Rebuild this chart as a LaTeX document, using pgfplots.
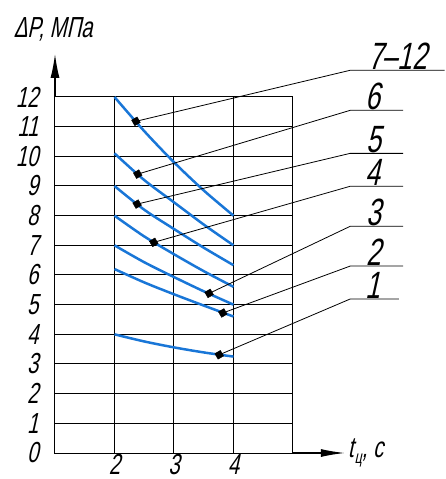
\documentclass[border=0pt]{standalone}
\usepackage{fontspec}
\setmainfont{Liberation Sans}[FakeStretch=0.7,FakeSlant=0.22]
\usepackage{pgfplots}
\pgfplotsset{compat=1.18}
\usetikzlibrary{arrows.meta}
\definecolor{cblue}{RGB}{25,118,215}
\begin{document}
\begin{tikzpicture}
\useasboundingbox (-55pt,-26pt) rectangle (390pt,453pt);
\begin{axis}[at={(0,0)}, anchor=south west, scale only axis, width=238pt, height=356pt,
  xmin=1, xmax=5, ymin=0, ymax=12,
  xtick={2,3,4}, ytick={0,...,12},
  grid=major, grid style={black, line width=1pt},
  axis line style={black, line width=1pt},
  major tick length=0pt, clip=false,
  tick label style={font=\fontsize{29}{29}\selectfont},
  /pgf/number format/assume math mode=true,
  yticklabel style={xshift=-13pt},
  xticklabel style={yshift=2pt},
]
% axis arrows
\draw[black, line width=1.2pt, -{Latex[length=24pt,width=9pt]}] (axis cs:1,12) -- (axis cs:1,13.45);
\draw[black, line width=1.2pt, -{Latex[length=24pt,width=8pt]}] (axis cs:5,0) -- (axis cs:5.87,0);
% curves
\addplot[cblue, line width=2.5pt, smooth] coordinates {(2,12) (2.5,10.85) (3,9.8) (3.5,8.85) (4,8.0)};
\addplot[cblue, line width=2.5pt, smooth] coordinates {(2,10.1) (2.5,9.2) (3,8.45) (3.5,7.7) (4,7.0)};
\addplot[cblue, line width=2.5pt, smooth] coordinates {(2,9.0) (2.5,8.2) (3,7.55) (3.5,6.92) (4,6.33)};
\addplot[cblue, line width=2.5pt, smooth] coordinates {(2,8.0) (2.5,7.3) (3,6.7) (3.5,6.13) (4,5.6)};
\addplot[cblue, line width=2.5pt, smooth] coordinates {(2,7.0) (2.5,6.43) (3,5.93) (3.5,5.45) (4,5.0)};
\addplot[cblue, line width=2.5pt, smooth] coordinates {(2,6.2) (2.5,5.75) (3,5.35) (3.5,4.97) (4,4.6)};
\addplot[cblue, line width=2.5pt, smooth] coordinates {(2,4.0) (2.5,3.76) (3,3.56) (3.5,3.39) (4,3.25)};
% leader lines
\addplot[black, line width=0.8pt] coordinates {(2.36,11.18) (5.96,12.9) (7.55,12.9)};
\addplot[black, line width=0.8pt] coordinates {(2.39,9.40) (5.96,11.55) (6.85,11.55)};
\addplot[black, line width=0.8pt] coordinates {(2.38,8.39) (5.96,10.1) (6.85,10.1)};
\addplot[black, line width=0.8pt] coordinates {(2.66,7.10) (5.96,8.99) (6.85,8.99)};
\addplot[black, line width=0.8pt] coordinates {(3.59,5.38) (5.96,7.64) (6.85,7.64)};
\addplot[black, line width=0.8pt] coordinates {(3.82,4.72) (5.96,6.30) (6.85,6.30)};
\addplot[black, line width=0.8pt] coordinates {(3.76,3.31) (5.96,5.19) (6.78,5.19)};
% markers
\addplot[only marks, mark=square*, mark size=3.2pt, mark options={black, rotate=30}] coordinates {(2.36,11.18) (2.39,9.40) (2.38,8.39) (2.66,7.10) (3.59,5.38) (3.82,4.72) (3.76,3.31)};
% leader labels
\begin{scope}[every node/.style={anchor=south, inner sep=0.5pt, font=\fontsize{38}{38}\selectfont}]
\node at (axis cs:6.76,12.9) {7–12};
\node at (axis cs:6.35,11.55) {6};
\node at (axis cs:6.36,10.1) {5};
\node at (axis cs:6.35,8.99) {4};
\node at (axis cs:6.36,7.64) {3};
\node at (axis cs:6.36,6.30) {2};
\node at (axis cs:6.35,5.19) {1};
\end{scope}
% axis labels
\node[font=\fontsize{29}{29}\selectfont] at (axis cs:0.97,14.28) {ΔP, МПа};
\node[anchor=west, font=\fontsize{29}{29}\selectfont, inner sep=0pt] at (axis cs:5.92,0) {t\kern1pt\raisebox{-6pt}{\fontsize{18}{18}\selectfont ц}, с};
\end{axis}
\end{tikzpicture}
\end{document}
